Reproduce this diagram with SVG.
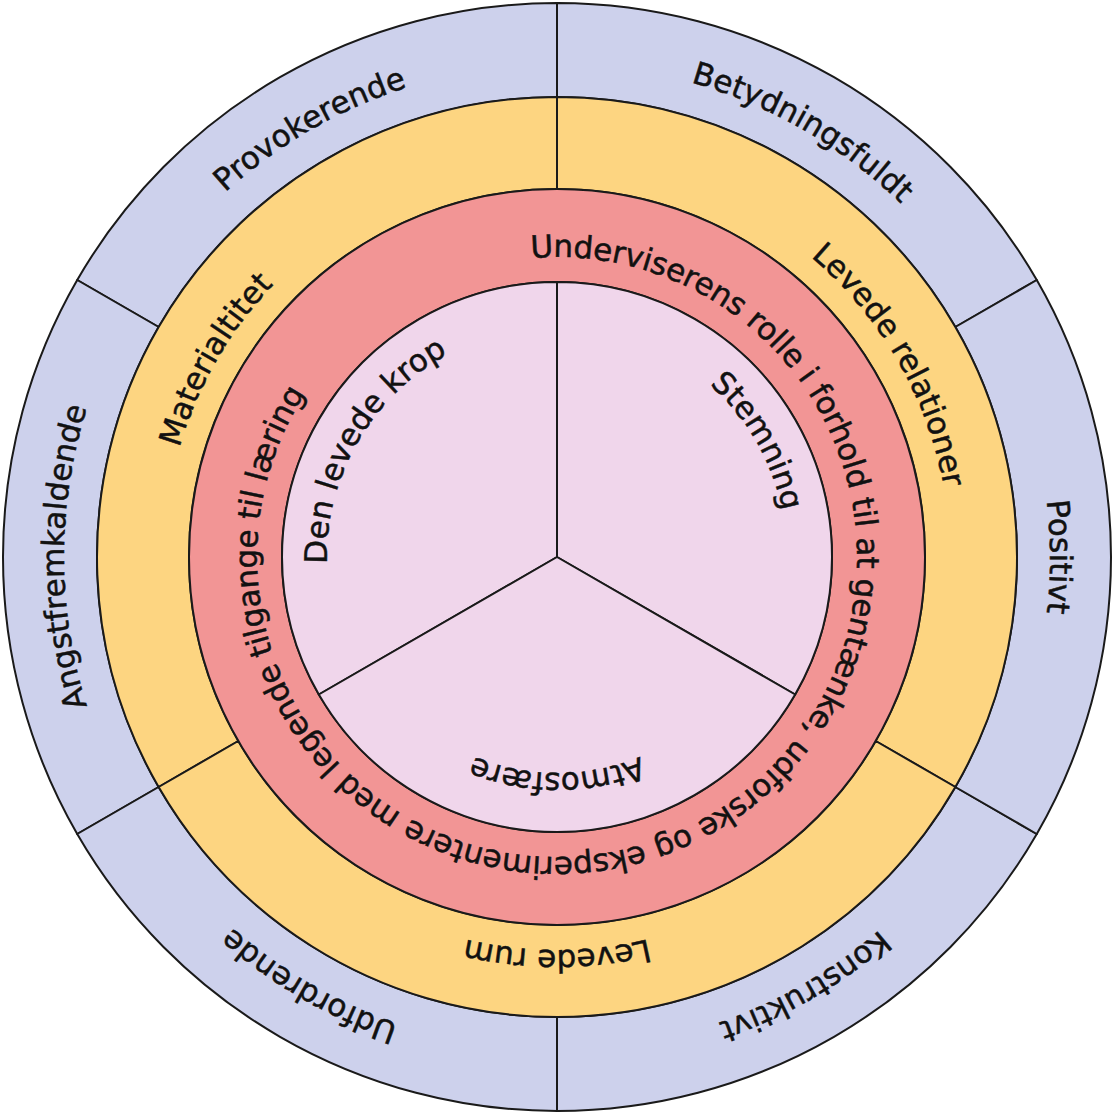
<svg xmlns="http://www.w3.org/2000/svg" xmlns:xlink="http://www.w3.org/1999/xlink" width="1114" height="1114" viewBox="0 0 1114 1114">
<style>
.seg{stroke:#1a1a1a;stroke-width:2;stroke-linejoin:round}
.blue{fill:#cdd1ec}
.yellow{fill:#fdd581}
.red{fill:#f29595}
.pink{fill:#f0d6eb}
.lbl{font-family:"DejaVu Sans","Liberation Sans",sans-serif;font-size:31px;fill:#111;stroke:#111;stroke-width:0.5}
.long{letter-spacing:-0.27px}
</style>
<defs>
<path id="p493" d="M64,557 A493,493 0 1 1 1050,557 A493,493 0 1 1 64,557"/>
<path id="p393" d="M164,557 A393,393 0 1 1 950,557 A393,393 0 1 1 164,557"/>
<path id="p300" d="M257,557 A300,300 0 1 1 857,557 A300,300 0 1 1 257,557"/>
<path id="p230" d="M327,557 A230,230 0 1 1 787,557 A230,230 0 1 1 327,557"/>
<path id="p216" d="M341,557 A216,216 0 1 1 773,557 A216,216 0 1 1 341,557"/>
</defs>
<rect width="1114" height="1114" fill="#ffffff"/>

<g id="outer-betydningsfuldt">
<path class="seg blue" d="M1036.78,280 A554,554 0 0 0 557,3 L557,97 A460,460 0 0 1 955.37,327 Z"/>
<text class="lbl" transform="rotate(-60 557 557)"><textPath xlink:href="#p493" startOffset="50%" text-anchor="middle">Betydningsfuldt</textPath></text>
</g>
<g id="outer-provokerende">
<path class="seg blue" d="M557,3 A554,554 0 0 0 77.22,280 L158.63,327 A460,460 0 0 1 557,97 Z"/>
<text class="lbl" transform="rotate(-120 557 557)"><textPath xlink:href="#p493" startOffset="50%" text-anchor="middle">Provokerende</textPath></text>
</g>
<g id="outer-angstfremkaldende">
<path class="seg blue" d="M77.22,280 A554,554 0 0 0 77.22,834 L158.63,787 A460,460 0 0 1 158.63,327 Z"/>
<text class="lbl" transform="rotate(180 557 557)"><textPath xlink:href="#p493" startOffset="50%" text-anchor="middle">Angstfremkaldende</textPath></text>
</g>
<g id="outer-udfordrende">
<path class="seg blue" d="M77.22,834 A554,554 0 0 0 557,1111 L557,1017 A460,460 0 0 1 158.63,787 Z"/>
<text class="lbl" transform="rotate(120 557 557)"><textPath xlink:href="#p493" startOffset="50%" text-anchor="middle">Udfordrende</textPath></text>
</g>
<g id="outer-konstruktivt">
<path class="seg blue" d="M557,1111 A554,554 0 0 0 1036.78,834 L955.37,787 A460,460 0 0 1 557,1017 Z"/>
<text class="lbl" transform="rotate(60 557 557)"><textPath xlink:href="#p493" startOffset="50%" text-anchor="middle">Konstruktivt</textPath></text>
</g>
<g id="outer-positivt">
<path class="seg blue" d="M1036.78,834 A554,554 0 0 0 1036.78,280 L955.37,327 A460,460 0 0 1 955.37,787 Z"/>
<text class="lbl"><textPath xlink:href="#p493" startOffset="50%" text-anchor="middle">Positivt</textPath></text>
</g>

<g id="mid-levede-relationer">
<path class="seg yellow" d="M955.37,787 A460,460 0 0 0 557,97 L557,189 A368,368 0 0 1 875.70,741 Z"/>
<text class="lbl" transform="rotate(-30 557 557)"><textPath xlink:href="#p393" startOffset="50%" text-anchor="middle">Levede relationer</textPath></text>
</g>
<g id="mid-materialtitet">
<path class="seg yellow" d="M557,97 A460,460 0 0 0 158.63,787 L238.30,741 A368,368 0 0 1 557,189 Z"/>
<text class="lbl" transform="rotate(-150 557 557)"><textPath xlink:href="#p393" startOffset="50%" text-anchor="middle">Materialtitet</textPath></text>
</g>
<g id="mid-levede-rum">
<path class="seg yellow" d="M158.63,787 A460,460 0 0 0 955.37,787 L875.70,741 A368,368 0 0 1 238.30,741 Z"/>
<text class="lbl" transform="rotate(90 557 557)"><textPath xlink:href="#p393" startOffset="50%" text-anchor="middle">Levede rum</textPath></text>
</g>

<g id="ring-underviserens-rolle">
<path class="seg red" fill-rule="evenodd" d="M557,189 A368,368 0 1 0 557,925 A368,368 0 1 0 557,189 Z M557,282 A275,275 0 1 1 557,832 A275,275 0 1 1 557,282 Z"/>
<text class="lbl long" transform="rotate(59 557 557)"><textPath xlink:href="#p300" startOffset="50%" text-anchor="middle">Underviserens rolle i forhold til at gentænke, udforske og eksperimentere med legende tilgange til læring</textPath></text>
</g>

<g id="inner-stemning">
<path class="seg pink" d="M795.16,694.5 A275,275 0 0 0 557,282 L557,557 Z"/>
<text class="lbl" transform="rotate(-30 557 557)"><textPath xlink:href="#p230" startOffset="50%" text-anchor="middle">Stemning</textPath></text>
</g>
<g id="inner-den-levede-krop">
<path class="seg pink" d="M557,282 A275,275 0 0 0 318.84,694.5 L557,557 Z"/>
<text class="lbl" transform="rotate(-150 557 557)"><textPath xlink:href="#p230" startOffset="50%" text-anchor="middle">Den levede krop</textPath></text>
</g>
<g id="inner-atmosfaere">
<path class="seg pink" d="M318.84,694.5 A275,275 0 0 0 795.16,694.5 L557,557 Z"/>
<text class="lbl" transform="rotate(90 557 557)"><textPath xlink:href="#p216" startOffset="50%" text-anchor="middle">Atmosfære</textPath></text>
</g>

<g id="connectors"></g>
</svg>
